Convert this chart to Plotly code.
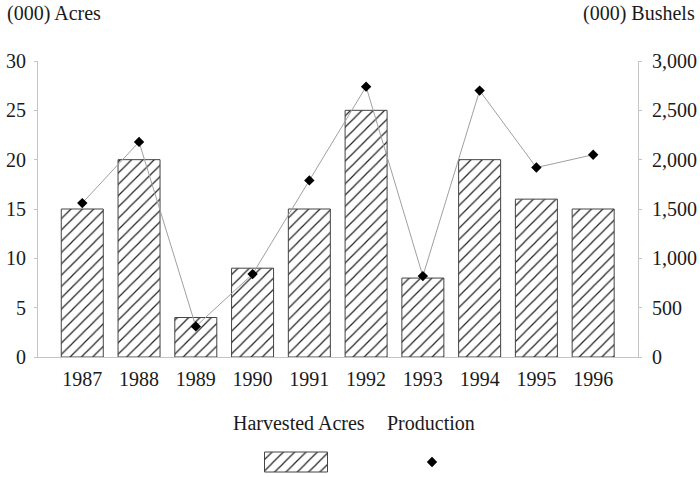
import plotly.graph_objects as go

# Harvested acres (thousand acres) and production (thousand bushels) by year
years = ["1987", "1988", "1989", "1990", "1991", "1992", "1993", "1994", "1995", "1996"]
harvested_acres = [15, 20, 4, 9, 15, 25, 8, 20, 16, 15]
production = [1560, 2180, 310, 840, 1790, 2740, 820, 2700, 1920, 2050]

acre_ticks = [0, 5, 10, 15, 20, 25, 30]
bushel_ticks = [0, 500, 1000, 1500, 2000, 2500, 3000]

W, H = 700, 477
FONT = "Liberation Serif"
TXT = "#1a1a1a"
AXIS = "#c4c4c4"

# plot area in pixels
px0, px1 = 38, 638
py_top, py_bot = 61, 357

hatch = dict(shape="/", fgcolor="#222222", bgcolor="white", size=8, solidity=0.15)

fig = go.Figure()

fig.add_trace(go.Bar(
    x=years, y=harvested_acres, name="Harvested Acres",
    marker=dict(color="white", line=dict(color="#444444", width=1), pattern=hatch),
    xaxis="x", yaxis="y", showlegend=False,
))

fig.add_trace(go.Scatter(
    x=years, y=production, name="Production", mode="lines+markers",
    line=dict(color="#a0a0a0", width=1),
    marker=dict(symbol="diamond", size=8, color="#000000"),
    xaxis="x", yaxis="y2", showlegend=False,
))

# legend keys drawn in a pixel-scaled overlay axis
fig.add_trace(go.Bar(
    x=[296], y=[-20], base=[472], width=[63],
    marker=dict(color="white", line=dict(color="#444444", width=1), pattern=hatch),
    xaxis="x3", yaxis="y3", showlegend=False, hoverinfo="skip",
))
fig.add_trace(go.Scatter(
    x=[432], y=[462], mode="markers",
    marker=dict(symbol="diamond", size=8, color="#000000"),
    xaxis="x3", yaxis="y3", showlegend=False, hoverinfo="skip",
))

tickfont = dict(family=FONT, size=20, color=TXT)

fig.update_layout(
    template="none",
    width=W, height=H,
    margin=dict(l=0, r=0, t=0, b=0),
    paper_bgcolor="white", plot_bgcolor="rgba(0,0,0,0)",
    bargap=0.26,
    font=dict(family=FONT, size=20, color=TXT),
    xaxis=dict(
        type="category", domain=[px0 / W, px1 / W], anchor="y",
        range=[-0.78, 9.79], showgrid=False, zeroline=False,
        showline=True, linecolor=AXIS, linewidth=1,
        ticks="", tickfont=tickfont, ticklabelstandoff=4,
        automargin=False,
    ),
    yaxis=dict(
        domain=[1 - py_bot / H, 1 - py_top / H], anchor="x",
        range=[0, 30], tickvals=acre_ticks, showgrid=False, zeroline=False,
        showline=True, linecolor=AXIS, linewidth=1,
        ticks="outside", ticklen=3, tickcolor=AXIS,
        tickfont=tickfont, ticklabelstandoff=4, automargin=False,
    ),
    yaxis2=dict(
        overlaying="y", side="right", anchor="x",
        range=[0, 3000], tickvals=bushel_ticks, tickformat=",",
        showgrid=False, zeroline=False,
        showline=True, linecolor=AXIS, linewidth=1,
        ticks="outside", ticklen=3, tickcolor=AXIS,
        tickfont=tickfont, ticklabelstandoff=6, automargin=False,
    ),
    xaxis3=dict(domain=[0, 1], anchor="y3", range=[0, W], visible=False,
                fixedrange=True, automargin=False),
    yaxis3=dict(domain=[0, 1], anchor="x3", range=[H, 0], visible=False,
                fixedrange=True, automargin=False),
    annotations=[
        dict(text="(000) Acres", xref="paper", yref="paper", x=5 / W, y=1 - 14 / H,
             xanchor="left", yanchor="middle", showarrow=False,
             font=dict(family=FONT, size=20, color=TXT)),
        dict(text="(000) Bushels", xref="paper", yref="paper", x=697 / W, y=1 - 14 / H,
             xanchor="right", yanchor="middle", showarrow=False,
             font=dict(family=FONT, size=20, color=TXT)),
        dict(text="Harvested Acres", xref="paper", yref="paper", x=367 / W, y=1 - 423 / H,
             xanchor="right", yanchor="middle", showarrow=False,
             font=dict(family=FONT, size=20, color=TXT)),
        dict(text="Production", xref="paper", yref="paper", x=385 / W, y=1 - 423 / H,
             xanchor="left", yanchor="middle", showarrow=False,
             font=dict(family=FONT, size=20, color=TXT)),
    ],
)

fig.write_html("out.html")
